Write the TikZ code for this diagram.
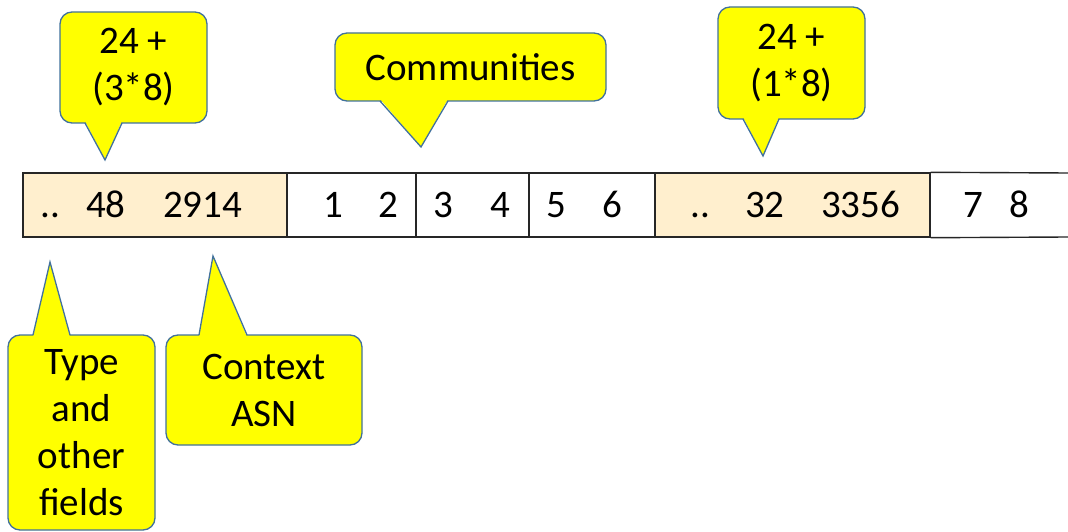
\documentclass[tikz,border=0pt]{standalone}
\usepackage{fontspec}
\setmainfont{Carlito}
\definecolor{cyel}{HTML}{FFFF00}
\definecolor{cbord}{HTML}{41719C}
\definecolor{cshade}{HTML}{FFEFCE}
\definecolor{cline}{HTML}{262626}
\begin{document}
\begin{tikzpicture}[x=1pt,y=1pt,
  callbox/.style={draw=cbord, fill=cyel, line width=1.3pt, rounded corners=12pt, align=center,
    font=\fontsize{39}{47}\selectfont, inner sep=0pt},
  ptrfill/.style={fill=cyel},
  ptrline/.style={draw=cbord, line width=1.3pt, line join=miter},
  cell/.style={draw=cline, line width=1.4pt, minimum height=64pt, inner sep=0pt},
  num/.style={anchor=base west, inner sep=0pt, font=\fontsize{39}{47}\selectfont}]
\useasboundingbox (0,0) rectangle (1068,531);

% row of cells
\node[cell, fill=cshade, minimum width=264pt] (c1) at (155,326) {};
\node[cell, minimum width=129pt] (c2) at (351.5,326) {};
\node[cell, minimum width=113pt] (c3) at (472.5,326) {};
\node[cell, minimum width=126pt] (c4) at (592,326) {};
\node[cell, fill=cshade, minimum width=275pt] (c5) at (792.5,326) {};
\coordinate (e1) at (1068,358);
\coordinate (e2) at (1068,294);
\draw[cline, line width=1.4pt] (c5.north east) -- (e1);
\draw[cline, line width=1.4pt] (c5.south east) -- (e2);

% cell texts
\node[num] (n1) at (40,313) {..};
\node[num] (n2) at (86,313) {48};
\node[num] (n3) at (163,313) {2914};
\node[num] (n4) at (323,313) {1};
\node[num] (n5) at (378,313) {2};
\node[num] (n6) at (433,313) {3};
\node[num] (n7) at (490,313) {4};
\node[num] (n8) at (546,313) {5};
\node[num] (n9) at (602,313) {6};
\node[num] (n10) at (690,313) {..};
\node[num] (n11) at (745,313) {32};
\node[num] (n12) at (821,313) {3356};
\node[num] (n13) at (963,313) {7};
\node[num] (n14) at (1009,313) {8};

% callout A
\node[callbox, minimum width=147pt, minimum height=111pt] (ka) at (133.5,463.5) {24 +\\(3*8)};
\fill[ptrfill] (85,410) -- (105,371) -- (122,410) -- cycle;
\draw[ptrline] (85,408) -- (105,371) -- (122,408);

% callout Communities
\node[callbox, minimum width=271pt, minimum height=68pt] (kb) at (470.5,464) {Communities};
\fill[ptrfill] (380,432) -- (421,384) -- (448,432) -- cycle;
\draw[ptrline] (380,430) -- (421,384) -- (448,430);

% callout C
\node[callbox, minimum width=147pt, minimum height=112pt] (kc) at (791.5,468) {24 +\\(1*8)};
\fill[ptrfill] (743,414) -- (763,375) -- (779,414) -- cycle;
\draw[ptrline] (743,412) -- (763,375) -- (779,412);

% callout Type
\node[callbox, minimum width=147pt, minimum height=195pt] (kd) at (81.5,98.5) {Type\\and\\other\\fields};
\fill[ptrfill] (33,194) -- (50,269) -- (70,194) -- cycle;
\draw[ptrline] (33,196) -- (50,269) -- (70,196);

% callout Context
\node[callbox, minimum width=196pt, minimum height=110pt] (ke) at (264,141) {Context\\ASN};
\fill[ptrfill] (199,194) -- (213,275) -- (247,194) -- cycle;
\draw[ptrline] (199,196) -- (213,275) -- (247,196);
\end{tikzpicture}
\end{document}
